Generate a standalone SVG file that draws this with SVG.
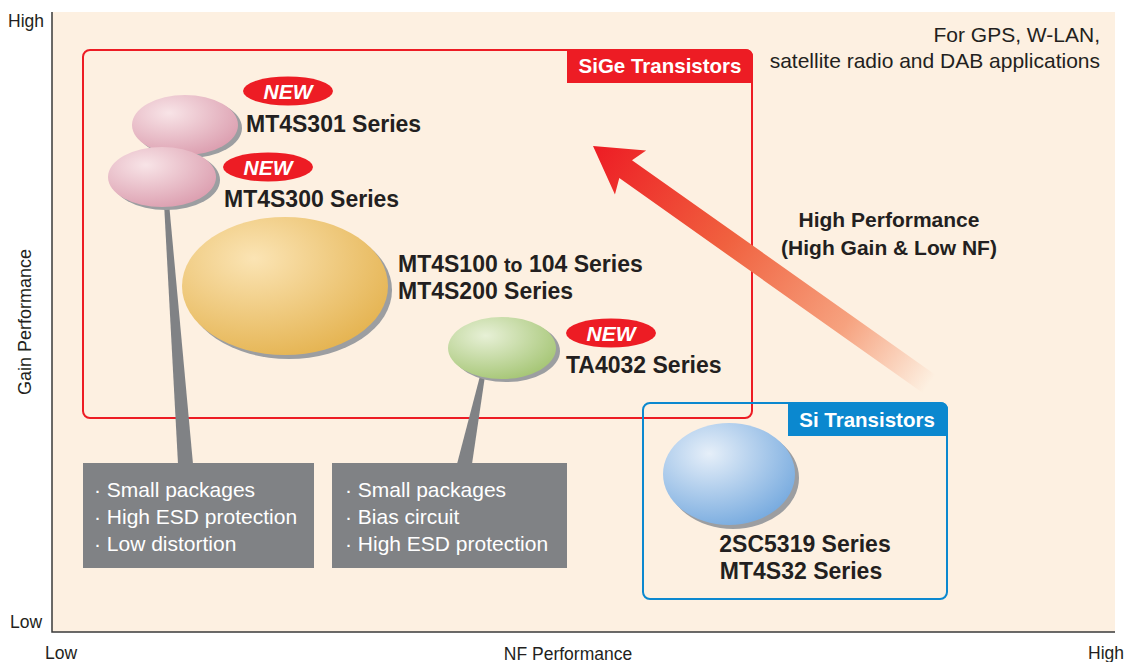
<svg xmlns="http://www.w3.org/2000/svg" width="1131" height="662" viewBox="0 0 1131 662">
<defs>
<style>
.t{font-family:"Liberation Sans",Arial,sans-serif;fill:#231f20}
.b{font-weight:bold}
.lab{font-family:"Liberation Sans",Arial,sans-serif;font-weight:bold;font-size:23px;fill:#231f20}
.new{font-family:"Liberation Sans",Arial,sans-serif;font-weight:bold;font-style:italic;font-size:21px;fill:#fff}
.tab{font-family:"Liberation Sans",Arial,sans-serif;font-weight:bold;font-size:20.5px;fill:#fff}
.box{font-family:"Liberation Sans",Arial,sans-serif;font-size:21px;fill:#fff}
.sh{fill:#9c9ea1}
.badge{fill:#ed1c24}
.gray{fill:#808285}
</style>
<radialGradient id="gPink" cx="0.35" cy="0.3" r="0.75">
<stop offset="0" stop-color="#f8e4e7"/><stop offset="1" stop-color="#dc9fb0"/>
</radialGradient>
<radialGradient id="gOrange" cx="0.35" cy="0.3" r="0.75">
<stop offset="0" stop-color="#fbe4b4"/><stop offset="1" stop-color="#e5b452"/>
</radialGradient>
<radialGradient id="gGreen" cx="0.35" cy="0.3" r="0.75">
<stop offset="0" stop-color="#e7f0d6"/><stop offset="1" stop-color="#a6c676"/>
</radialGradient>
<radialGradient id="gBlue" cx="0.35" cy="0.3" r="0.75">
<stop offset="0" stop-color="#e6eff9"/><stop offset="1" stop-color="#78abdf"/>
</radialGradient>
<linearGradient id="gArrow" gradientUnits="userSpaceOnUse" x1="0" y1="0" x2="412" y2="0">
<stop offset="0" stop-color="#ed1c24"/>
<stop offset="0.4" stop-color="#f0613f"/>
<stop offset="0.75" stop-color="#f6a27f"/>
<stop offset="1" stop-color="#fdf0e1"/>
</linearGradient>
</defs>

<!-- plot background and axes -->
<rect x="52" y="12" width="1063" height="620" fill="#fdf0e1"/>
<path d="M52,12 V632 H1115" fill="none" stroke="#3a3a3a" stroke-width="1.5"/>
<text class="t" x="8" y="27" font-size="17.5">High</text>
<text class="t" x="10" y="628" font-size="17.5">Low</text>
<text class="t" x="45" y="659" font-size="17.5">Low</text>
<text class="t" x="1124" y="659" font-size="17.5" text-anchor="end">High</text>
<text class="t" x="568" y="660" font-size="17.5" text-anchor="middle">NF Performance</text>
<text class="t" x="0" y="0" font-size="18" text-anchor="middle" transform="translate(31,322) rotate(-90)">Gain Performance</text>
<text class="t" x="1100" y="42" font-size="21" text-anchor="end">For GPS, W-LAN,</text>
<text class="t" x="1100" y="68" font-size="21" text-anchor="end">satellite radio and DAB applications</text>

<!-- SiGe group -->
<g id="sige">
<rect x="83" y="50" width="669" height="368" rx="7" fill="none" stroke="#ed1c24" stroke-width="2"/>
<path d="M567,49 H745 Q753,49 753,57 V83 H567 Z" fill="#ed1c24"/>
<text class="tab" x="660" y="73" text-anchor="middle">SiGe Transistors</text>
</g>

<!-- Si group -->
<g id="si">
<rect x="643" y="403" width="304" height="196" rx="7" fill="none" stroke="#0b88cf" stroke-width="2"/>
<path d="M788,402 H940 Q948,402 948,410 V436 H788 Z" fill="#0b88cf"/>
<text class="tab" x="867" y="427" text-anchor="middle">Si Transistors</text>
</g>

<!-- connectors -->
<g id="connectors">
<polygon class="gray" points="164,203 169,203 193,464 178,464"/>
<polygon class="gray" points="480,376 485,376 472,464 457,464"/>
<g transform="translate(593,146) rotate(35.3)">
<polygon fill="url(#gArrow)" points="0,0 46,-27 40,-11 412,-11 412,11 40,11 46,27"/>
</g>
</g>

<!-- callout boxes -->
<g id="box1">
<rect class="gray" x="83" y="463" width="231" height="105"/>
<text class="box" x="94" y="497">· Small packages</text>
<text class="box" x="94" y="524">· High ESD protection</text>
<text class="box" x="94" y="551">· Low distortion</text>
</g>
<g id="box2">
<rect class="gray" x="332" y="463" width="235" height="105"/>
<text class="box" x="345" y="497">· Small packages</text>
<text class="box" x="345" y="524">· Bias circuit</text>
<text class="box" x="345" y="551">· High ESD protection</text>
</g>

<!-- nodes -->
<g id="mt4s301">
<ellipse class="sh" cx="189" cy="128" rx="53" ry="30"/>
<ellipse cx="185" cy="125" rx="53" ry="30" fill="url(#gPink)"/>
<ellipse class="badge" cx="288" cy="91" rx="45" ry="14.5"/>
<text class="new" x="288" y="99" text-anchor="middle">NEW</text>
<text class="lab" x="246" y="132">MT4S301 Series</text>
</g>
<g id="mt4s300">
<ellipse class="sh" cx="166" cy="180" rx="54" ry="30"/>
<ellipse cx="162" cy="177" rx="54" ry="30" fill="url(#gPink)"/>
<ellipse class="badge" cx="268" cy="167" rx="45" ry="14.5"/>
<text class="new" x="268" y="175" text-anchor="middle">NEW</text>
<text class="lab" x="224" y="207">MT4S300 Series</text>
</g>
<g id="mt4s100">
<ellipse class="sh" cx="289" cy="290" rx="103" ry="69"/>
<ellipse cx="285" cy="286" rx="103" ry="69" fill="url(#gOrange)"/>
<text class="lab" x="398" y="272">MT4S100 <tspan font-size="19.5">to</tspan> 104 Series</text>
<text class="lab" x="398" y="299">MT4S200 Series</text>
</g>
<g id="ta4032">
<ellipse class="sh" cx="506" cy="351" rx="54" ry="31"/>
<ellipse cx="502" cy="348" rx="54" ry="31" fill="url(#gGreen)"/>
<ellipse class="badge" cx="611" cy="333" rx="45" ry="14.5"/>
<text class="new" x="611" y="341" text-anchor="middle">NEW</text>
<text class="lab" x="566" y="373">TA4032 Series</text>
</g>
<g id="sc5319">
<ellipse class="sh" cx="733" cy="478" rx="66" ry="51"/>
<ellipse cx="729" cy="474" rx="66" ry="51" fill="url(#gBlue)"/>
<text class="lab" x="805" y="552" text-anchor="middle">2SC5319 Series</text>
<text class="lab" x="801" y="579" text-anchor="middle">MT4S32 Series</text>
</g>

<g id="perf-label">
<text class="t b" x="889" y="227" font-size="21" text-anchor="middle">High Performance</text>
<text class="t b" x="889" y="255" font-size="21" text-anchor="middle">(High Gain &amp; Low NF)</text>
</g>
</svg>
